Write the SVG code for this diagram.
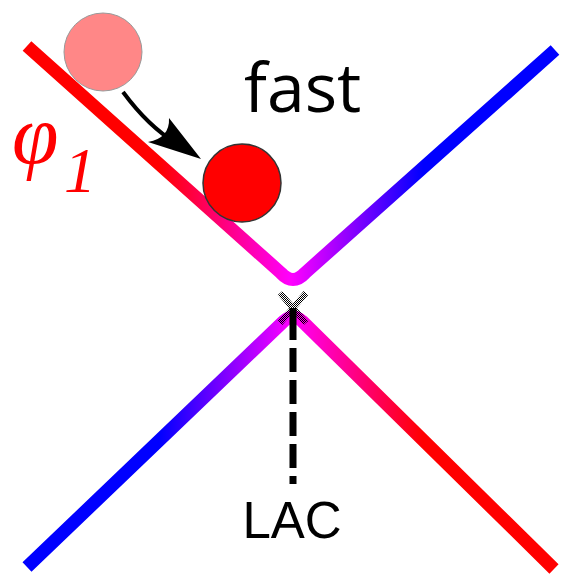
<svg xmlns="http://www.w3.org/2000/svg" width="562" height="577" viewBox="0 0 562 577">
<defs>
<style>
.curve{fill:none;stroke-width:13;stroke-linejoin:round;stroke-linecap:butt}
.lbl{font-family:"Liberation Sans",Arial,sans-serif;fill:#000}
.fast{font-family:"Open Sans","Noto Sans",sans-serif;fill:#000}
.phi{font-family:"Liberation Serif","Times New Roman",serif;font-style:italic;fill:#ff0000}
</style>
<linearGradient id="gUp" gradientUnits="userSpaceOnUse" x1="27" y1="0" x2="555" y2="0">
<stop offset="0" stop-color="#ff0000"/>
<stop offset="0.25" stop-color="#ff0000"/>
<stop offset="0.5" stop-color="#ff00ff"/>
<stop offset="0.75" stop-color="#0000ff"/>
<stop offset="1" stop-color="#0000ff"/>
</linearGradient>
<linearGradient id="gLo" gradientUnits="userSpaceOnUse" x1="27" y1="0" x2="555" y2="0">
<stop offset="0" stop-color="#0000ff"/>
<stop offset="0.25" stop-color="#0000ff"/>
<stop offset="0.5" stop-color="#ff00ff"/>
<stop offset="0.75" stop-color="#ff0000"/>
<stop offset="1" stop-color="#ff0000"/>
</linearGradient>
<pattern id="checker" patternUnits="userSpaceOnUse" width="2" height="2">
<rect x="0" y="0" width="1" height="1" fill="#000"/>
<rect x="1" y="1" width="1" height="1" fill="#000"/>
</pattern>
</defs>
<g id="curves">
<path id="upper" class="curve" stroke="url(#gUp)" d="M27,46 L281,273 Q293,286 305,273 L555,50"/>
<path id="lower" class="curve" stroke="url(#gLo)" d="M27,567 L284,321 Q293,313 302,321 L554,569"/>
</g>
<g id="crossing">
<path d="M280,293 L306,323 M306,293 L280,323" fill="none" stroke="url(#checker)" stroke-width="6"/>
</g>
<g id="connectors">
<line x1="293" y1="308" x2="293" y2="484" stroke="#000" stroke-width="7" stroke-dasharray="32 8 24 8 24 8 24 8 24 8 8 8"/>
<path d="M123,92 C140,115 156,131 176,143" fill="none" stroke="#000" stroke-width="4"/>
<path d="M201,159 L148,142 Q170,138 169,118 Z" fill="#000"/>
</g>
<g id="ball1">
<circle cx="103" cy="52" r="39" fill="#ff8787" stroke="#999" stroke-width="1"/>
</g>
<g id="ball2">
<circle cx="242" cy="183" r="39" fill="#ff0000" stroke="#333" stroke-width="1.5"/>
</g>
<g id="labels">
<text class="fast" x="244" y="112" font-size="68">fast</text>
<text class="lbl" x="292" y="538" font-size="51" text-anchor="middle">LAC</text>
<text class="phi" x="12" y="163" font-size="84">φ</text>
<text class="phi" x="64" y="192" font-size="64">1</text>
</g>
</svg>
